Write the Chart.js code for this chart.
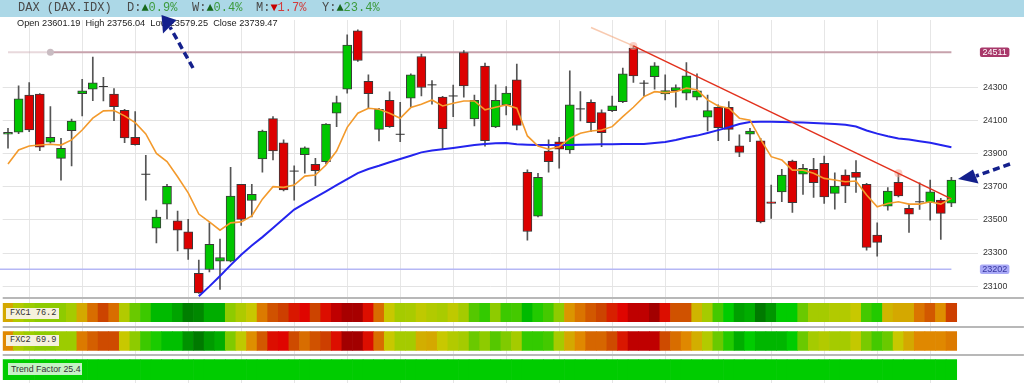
<!DOCTYPE html>
<html>
<head>
<meta charset="utf-8">
<script src="https://cdn.jsdelivr.net/npm/chart.js@4.4.1/dist/chart.umd.min.js"></script>
<style>
  html, body { margin: 0; padding: 0; background: #fff; }
  #wrap { position: relative; width: 1024px; height: 383px; overflow: hidden; }
  canvas { position: absolute; left: 0; }
  #price { top: 0; }
  #strips { top: 297px; }
  #header { position: absolute; left: 0; top: 0; width: 1024px; height: 17px; background: #acd8e7;
            font-family: 'Liberation Mono', 'DejaVu Sans Mono', monospace; font-size: 12px; line-height: 16px; color: #4a4a4a; }
  #header span.blk { position: absolute; top: 0; white-space: pre; }
  .up { color: #17691c; } .upv { color: #3c9a3c; }
  .dn { color: #c80000; } .dnv { color: #d23c3c; }
  #ohlc { position: absolute; left: 17px; top: 18px; font-family: 'Liberation Sans', Arial, sans-serif; font-size: 9.2px; color: #222; white-space: pre; }
  .tag { position: absolute; white-space: pre; color: #333; }
  .fxc { left: 6px; width: 49px; height: 11px; line-height: 11px; padding-left: 4px; background: #f6f1dc;
         font-family: 'Liberation Mono', monospace; font-size: 8.6px; }
  #tf { left: 8px; top: 363px; width: 71px; height: 12px; line-height: 12px; padding-left: 3px; background: #c6f2c6;
        font-family: 'Liberation Sans', Arial, sans-serif; font-size: 8.8px; }
  svg { position: absolute; left: 0; top: 0; }
</style>
</head>
<body>
<div id="wrap">
  <canvas id="price" width="1024" height="297"></canvas>
  <canvas id="strips" width="1024" height="86"></canvas>
  <div id="header">
    <span class="blk" style="left:18px">DAX (DAX.IDX)</span>
    <span class="blk" style="left:127px">D:<span class="up">▲</span><span class="upv">0.9%</span></span>
    <span class="blk" style="left:192px">W:<span class="up">▲</span><span class="upv">0.4%</span></span>
    <span class="blk" style="left:256px">M:<span class="dn">▼</span><span class="dnv">1.7%</span></span>
    <span class="blk" style="left:322px">Y:<span class="up">▲</span><span class="upv">23.4%</span></span>
  </div>
  <div id="ohlc">Open 23601.19  High 23756.04  Low 23579.25  Close 23739.47</div>
  <div class="tag fxc" style="top:308px">FXC1 76.2</div>
  <div class="tag fxc" style="top:335px">FXC2 69.9</div>
  <div class="tag" id="tf">Trend Factor 25.4</div>
  <svg width="1024" height="383">
    <g stroke="#14208c" stroke-width="3.5" stroke-dasharray="7 4" fill="none">
      <line x1="193" y1="68" x2="170" y2="27"/>
      <line x1="1010" y1="164" x2="976" y2="176"/>
    </g>
    <g fill="#14208c">
      <polygon points="161.5,15 163,33.5 176.5,20"/>
      <polygon points="958,179 973,169.5 978.5,183.5"/>
    </g>
  </svg>
</div>
<script>
// price candles, oldest first (last one = the live session)
const opens = [24016,24028,24253,24258,23968,23871,24038,24261,24288,24304,
  24258,24161,23998,23775,23450,23595,23494,23428,23178,23201,
  23251,23251,23714,23617,23867,24110,23965,23794,23893,23835,
  23851,24143,24288,24640,24336,24046,24221,24016,24234,24485,
  24314,24240,24247,24509,24109,24427,24060,24193,24344,23787,
  23523,23915,23971,23921,24169,24209,24147,24159,24213,24536,
  24324,24364,24260,24279,24264,24240,24119,24179,24179,23947,
  24016,23977,23609,23669,23855,23776,23805,23841,23660,23770,
  23787,23714,23408,23583,23726,23569,23609,23603,23619,23601.19];
const highs = [24052,24308,24328,24262,24183,23992,24107,24348,24481,24360,
  24292,24167,24153,23889,23559,23714,23553,23503,23257,23482,
  23384,23817,23714,23714,24042,24122,23982,23826,23941,23871,
  24080,24247,24616,24646,24374,24173,24272,24209,24380,24499,
  24340,24245,24312,24521,24253,24445,24314,24304,24439,23801,
  23781,23982,23998,24398,24273,24223,24163,24247,24415,24549,
  24340,24449,24374,24314,24449,24380,24253,24193,24213,24012,
  24052,23992,23710,23805,23861,23835,23871,23885,23784,23801,
  23857,23720,23482,23694,23781,23593,23724,23740,23630,23756.04];
const lows = [23932,24020,24032,23917,23962,23740,23825,24127,24219,24217,
  24098,23965,23950,23619,23361,23505,23313,23261,23056,23186,
  23080,23247,23467,23518,23788,23861,23675,23619,23781,23706,
  23837,24062,24264,24455,24173,23976,24058,23971,24179,24247,
  24197,23926,24122,24240,24066,23945,24056,24133,24042,23378,
  23518,23787,23811,23901,24096,24032,23941,24153,24207,24328,
  24247,24288,24223,24179,24223,24223,24036,23977,23977,23881,
  23971,23482,23509,23609,23545,23654,23636,23599,23565,23603,
  23666,23317,23281,23559,23639,23424,23563,23498,23382,23579.25];
const closes = [24028,24229,24042,23938,23998,23932,24096,24278,24326,24304,
  24183,23994,23953,23775,23517,23702,23438,23323,23059,23352,
  23273,23643,23503,23654,24036,23915,23680,23794,23935,23796,
  24077,24207,24554,24461,24261,24167,24062,24016,24374,24298,
  24314,24050,24247,24308,24221,23977,24221,24264,24070,23430,
  23756,23851,23927,24193,24169,24086,24026,24187,24380,24368,
  24324,24429,24279,24298,24368,24278,24159,24056,24046,23907,
  24036,23488,23599,23770,23603,23811,23724,23639,23704,23704,
  23756,23334,23364,23674,23645,23535,23609,23669,23539,23739.47];

// moving averages
const maFast = [23837,23921,23945,23951,23956,23951,23982,24042,24113,24157,
  24159,24127,24086,24018,23901,23851,23760,23663,23535,23488,
  23438,23482,23488,23524,23625,23700,23696,23710,23764,23770,
  23831,23915,24058,24143,24173,24167,24143,24113,24177,24197,
  24223,24187,24203,24217,24217,24163,24179,24193,24173,24006,
  23945,23926,23941,23992,24022,24036,24042,24062,24122,24179,
  24243,24273,24267,24273,24294,24284,24223,24187,24173,24113,
  24101,23985,23881,23861,23800,23800,23781,23750,23740,23730,
  23734,23650,23579,23599,23609,23595,23595,23609,23595,23630];
const maSlow = [null,null,null,null,null,null,null,null,null,null,
  null,null,null,null,null,null,null,null,23040,23099,
  23162,23227,23290,23345,23396,23451,23507,23562,23599,23636,
  23672,23709,23746,23782,23807,23826,23847,23867,23887,23907,
  23918,23926,23934,23942,23951,23958,23962,23964,23956,23953,
  23951,23951,23951,23951,23953,23955,23956,23956,23957,23958,
  23958,23964,23970,23982,23997,24008,24024,24041,24058,24078,
  24090,24091,24092,24090,24089,24087,24084,24081,24078,24073,
  24063,24039,24020,24004,23991,23984,23974,23965,23951,23938];

// drawn objects
const trendIdx = [59, 89];
const trendVal = [24549, 23627];
const trendExtIdx = [55, 59];
const trendExtVal = [24660, 24549];
const anchorIdx = [59, 84];
const anchorVal = [24549, 23781];
const levelValues = [24511, 23202];
const levelHandleIdx = 4;
const priceTicks = [23100, 23300, 23500, 23700, 23900, 24100, 24300];

// indicator strips (0 = deep red ... 100 = deep green)
const fxc1 = [45,55,60,62,62,62,58,45,36,30,
  36,55,67,73,84,84,89,97,95,87,
  87,62,56,50,38,32,29,20,16,30,
  18,8,3,3,18,36,50,58,57,52,
  55,57,52,58,70,74,62,73,72,84,
  76,72,62,42,37,33,30,22,16,8,
  8,2,18,32,32,47,58,72,80,90,
  87,98,92,80,80,67,58,58,55,55,
  50,72,76,47,45,45,37,33,41,29];
const fxc2 = [40,55,60,62,62,60,60,38,34,31,
  31,50,62,73,77,83,83,93,98,91,
  87,64,52,41,33,18,16,31,36,32,
  29,18,2,2,18,36,50,58,58,46,
  45,50,55,58,67,62,70,64,58,74,
  74,72,58,45,40,35,35,31,20,8,
  8,8,31,36,40,46,55,67,76,87,
  80,85,85,85,80,67,58,55,58,58,
  51,65,72,67,50,45,40,40,40,38];
const trendFactor = [25,25,25,25,25,25,25,25,25,25,
  25,25,25,25,25,25,25,25,25,25,
  25,25,25,25,25,25,25,25,25,25,
  25,25,25,25,25,25,25,25,25,25,
  25,25,25,25,25,25,25,25,25,25,
  25,25,25,25,25,25,25,25,25,25,
  25,25,25,25,25,25,25,25,25,25,
  25,25,25,25,25,25,25,25,25,25,
  25,25,25,25,25,25,25,25,25,25.4];

// 2 empty slots on the right, like the original
const SLOTS = closes.length + 2;
const sessions = Array.from({ length: SLOTS }, (_, i) => i < closes.length ? 'S' + (i + 1) : '');

const sparse = (idx, vals) => {
  const a = new Array(SLOTS).fill(null);
  idx.forEach((k, j) => { a[k] = vals[j]; });
  return a;
};

const heatStops = [[0,[153,0,0]],[15,[224,0,0]],[30,[204,68,0]],[40,[224,136,0]],[50,[200,200,0]],
  [60,[156,204,0]],[70,[85,200,0]],[80,[0,204,0]],[90,[0,160,0]],[100,[0,112,0]]];
function heat(v) {
  for (let i = 1; i < heatStops.length; i++) {
    const [v1, c1] = heatStops[i];
    if (v <= v1) {
      const [v0, c0] = heatStops[i - 1];
      const t = (v - v0) / (v1 - v0);
      const c = c0.map((ch, k) => Math.round(ch + (c1[k] - ch) * t));
      return `rgb(${c[0]},${c[1]},${c[2]})`;
    }
  }
  return 'rgb(0,112,0)';
}

const wickData = lows.map((l, i) => [l, highs[i]]);
const bodyData = opens.map((o, i) => o === closes[i] ? null : [o, closes[i]]);
const bodyColors = opens.map((o, i) => closes[i] > o ? '#00c600' : '#dc0000');
const dojiData = opens.map((o, i) => o === closes[i] ? o : null);

const gridX = c => (c.index % 5 === 2 ? '#e6e6e6' : 'rgba(0,0,0,0)');

// keep the plot flush with the canvas edges (no label overflow padding)
const noPad = s => { s.paddingTop = 0; s.paddingBottom = 0; s.paddingLeft = 0; s.paddingRight = 0; };

const makeX = () => ({
  offset: true,
  grid: { offset: false, color: gridX, drawTicks: false },
  border: { display: false },
  ticks: { display: false, autoSkip: false },
  afterFit: s => { s.height = 0; noPad(s); }
});

const levelPlugin = {
  id: 'levels',
  beforeDatasetsDraw(chart) {
    const { ctx, chartArea, scales: { x, y } } = chart;
    const xEnd = x.getPixelForValue(closes.length - 1);
    const yTop = y.getPixelForValue(levelValues[0]);
    const yLow = y.getPixelForValue(levelValues[1]);
    const xh = x.getPixelForValue(levelHandleIdx);
    ctx.save();
    ctx.lineWidth = 2;
    ctx.strokeStyle = 'rgba(205,170,178,0.45)';
    ctx.beginPath(); ctx.moveTo(x.getPixelForValue(0), yTop); ctx.lineTo(xh, yTop); ctx.stroke();
    ctx.strokeStyle = '#c7a2ac';
    ctx.beginPath(); ctx.moveTo(xh, yTop); ctx.lineTo(xEnd, yTop); ctx.stroke();
    ctx.fillStyle = '#c9bcc2';
    ctx.beginPath(); ctx.arc(xh, yTop, 3.5, 0, Math.PI * 2); ctx.fill();
    ctx.lineWidth = 1.5;
    ctx.strokeStyle = '#b5b7f5';
    ctx.beginPath(); ctx.moveTo(chartArea.left - 3, yLow); ctx.lineTo(xEnd, yLow); ctx.stroke();
    ctx.restore();
  },
  afterDraw(chart) {
    const { ctx, chartArea, scales: { y } } = chart;
    const styles = [{ bg: '#a8386a', fg: '#ffffff' }, { bg: '#a9a9f6', fg: '#3737a0' }];
    ctx.save();
    ctx.font = '9px "Liberation Sans", Arial, sans-serif';
    ctx.textBaseline = 'middle';
    ctx.textAlign = 'center';
    levelValues.forEach((v, i) => {
      const py = y.getPixelForValue(v);
      const bx = chartArea.right + 2;
      ctx.fillStyle = styles[i].bg;
      ctx.beginPath();
      ctx.roundRect(bx, py - 4.7, 29.5, 9.4, 2);
      ctx.fill();
      ctx.fillStyle = styles[i].fg;
      ctx.fillText(String(v), bx + 14.8, py + 0.5);
    });
    ctx.restore();
  }
};

new Chart(document.getElementById('price'), {
  type: 'bar',
  data: {
    labels: sessions,
    datasets: [
      { type: 'line', label: 'Trend line', data: sparse(trendIdx, trendVal), borderColor: '#e2311d',
        borderWidth: 1.5, pointRadius: 0, spanGaps: true, order: 0 },
      { type: 'line', label: 'Trend extension', data: sparse(trendExtIdx, trendExtVal), borderColor: 'rgba(244,166,124,0.6)',
        borderWidth: 1.5, pointRadius: 0, spanGaps: true, order: 0 },
      { type: 'line', label: 'Anchors', data: sparse(anchorIdx, anchorVal), showLine: false, pointRadius: 4,
        pointBackgroundColor: 'rgba(246,168,150,0.55)', pointBorderWidth: 0, order: 0 },
      { type: 'line', label: 'MA fast', data: maFast, borderColor: '#f39a2c', borderWidth: 1.6, pointRadius: 0, order: 1 },
      { type: 'line', label: 'MA slow', data: maSlow, borderColor: '#2424ee', borderWidth: 2, pointRadius: 0, order: 1 },
      { type: 'line', label: 'Doji', data: dojiData, showLine: false, pointStyle: 'line', pointRadius: 4.5,
        pointBorderColor: '#333', pointBorderWidth: 1, order: 2 },
      { label: 'Body', data: bodyData, backgroundColor: bodyColors, borderColor: '#3a3a3a', borderWidth: 1,
        borderSkipped: false, barThickness: 9, grouped: false, order: 2 },
      { label: 'Wick', data: wickData, backgroundColor: '#555', barThickness: 1, grouped: false, order: 3 }
    ]
  },
  options: {
    responsive: false,
    animation: false,
    events: [],
    layout: { autoPadding: false, padding: { left: 2.7, top: 20, right: 0, bottom: 0 } },
    plugins: { legend: { display: false }, tooltip: { enabled: false } },
    scales: {
      x: makeX(),
      y: {
        position: 'right',
        min: 23035,
        max: 24705,
        afterBuildTicks: ax => { ax.ticks = priceTicks.map(v => ({ value: v })); },
        grid: { color: '#e3e3e3', drawTicks: false },
        border: { display: false },
        ticks: { font: { family: "'Liberation Sans', Arial, sans-serif", size: 8.8 }, color: '#333', padding: 5,
                 callback: v => String(v) },
        afterFit: s => { s.width = 46.1; noPad(s); }
      }
    }
  },
  plugins: [levelPlugin]
});

new Chart(document.getElementById('strips'), {
  type: 'bar',
  data: {
    labels: sessions,
    datasets: [
      { label: 'FXC1', data: fxc1.map(() => [0.18, 0.83]), backgroundColor: fxc1.map(heat) },
      { label: 'FXC2', data: fxc2.map(() => [1.18, 1.85]), backgroundColor: fxc2.map(heat) },
      { label: 'Trend Factor', data: trendFactor.map(() => [2.17, 2.88]),
        backgroundColor: trendFactor.map(v => v > 0 ? '#00cc00' : '#dd0000') }
    ]
  },
  options: {
    responsive: false,
    animation: false,
    events: [],
    layout: { autoPadding: false, padding: { left: 2.7, top: 1.3, right: 0, bottom: 0 } },
    datasets: { bar: { barPercentage: 1, categoryPercentage: 1, grouped: false, borderWidth: 0 } },
    plugins: { legend: { display: false }, tooltip: { enabled: false } },
    scales: {
      x: makeX(),
      y: {
        position: 'right',
        reverse: true,
        min: 0,
        max: 3,
        afterBuildTicks: ax => { ax.ticks = [0, 1, 2].map(v => ({ value: v })); },
        grid: { color: '#b8b8b8', lineWidth: 2, drawTicks: true, tickLength: 46 },
        border: { display: false },
        ticks: { display: false },
        afterFit: s => { s.width = 46.1; noPad(s); }
      }
    }
  }
});
</script>
</body>
</html>
